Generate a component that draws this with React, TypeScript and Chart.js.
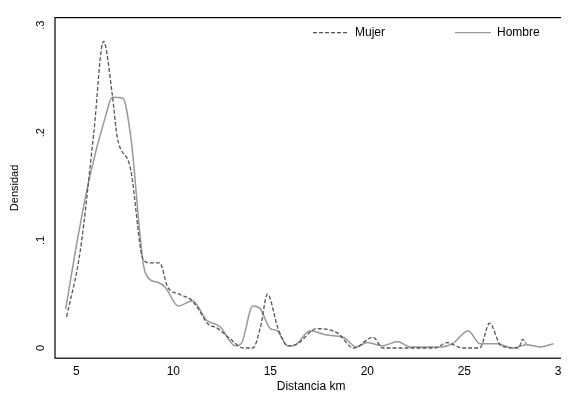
import React, { useEffect, useRef } from "react";
import { Chart, registerables } from "chart.js";
Chart.register(...registerables);

const mujerX = [4.5, 5.2, 5.9, 6.4, 6.85, 7.1, 7.8, 8.45, 8.8, 9.3, 9.7, 10.3, 10.9, 11.3, 11.75, 12.3, 12.9, 13.6, 14.1, 14.5, 14.85, 15.4, 15.9, 16.4, 17.4, 18.45, 19.3, 20.3, 20.8, 21.5, 23.5, 24.1, 24.9, 25.8, 26.3, 26.9, 27.8, 28.0, 28.2];
const mujerY = [0.029, 0.09, 0.2, 0.285, 0.236, 0.197, 0.166, 0.082, 0.079, 0.079, 0.057, 0.05, 0.045, 0.036, 0.023, 0.018, 0.009, 0.0, 0.0, 0.02, 0.05, 0.018, 0.002, 0.004, 0.018, 0.014, 0.0, 0.01, 0.0, 0.0, 0.0, 0.005, 0.0, 0.0, 0.023, 0.002, 0.0, 0.008, 0.004];
const hombreX = [4.45, 5.05, 5.7, 6.5, 6.85, 7.4, 7.8, 8.55, 9.2, 9.6, 10.25, 11.0, 11.7, 12.4, 13.2, 13.5, 14.1, 14.45, 15.0, 15.35, 15.9, 16.2, 17.05, 17.9, 18.75, 19.45, 20.0, 20.8, 21.55, 22.2, 23.8, 24.4, 25.2, 25.8, 26.7, 27.5, 28.2, 28.9, 29.6];
const hombreY = [0.036, 0.1, 0.16, 0.215, 0.233, 0.232, 0.197, 0.07, 0.061, 0.056, 0.039, 0.044, 0.026, 0.02, 0.002, 0.004, 0.039, 0.037, 0.018, 0.016, 0.002, 0.002, 0.016, 0.012, 0.01, 0.001, 0.005, 0.002, 0.006, 0.001, 0.001, 0.004, 0.016, 0.004, 0.004, 0.0, 0.003, 0.001, 0.004];
const xTicks = [5, 10, 15, 20, 25, 30];
const yTicks = [0, 0.1, 0.2, 0.3];
const yTickLabels = ["0", ".1", ".2", ".3"];

const FONT = "'Liberation Sans', Arial, sans-serif";

export default function App() {
  const ref = useRef<HTMLCanvasElement>(null);
  useEffect(() => {
    const frame = {
      id: "frame",
      afterDraw(c: any) {
        const { ctx, chartArea: a, scales } = c;
        ctx.save();
        ctx.strokeStyle = "#000";
        ctx.lineWidth = 1.2;
        ctx.strokeRect(a.left, a.top, a.right - a.left, a.bottom - a.top);
        ctx.fillStyle = "#000";
        ctx.font = `11px ${FONT}`;
        ctx.textAlign = "center";
        ctx.textBaseline = "bottom";
        yTicks.forEach((v, i) => {
          const y = scales.y.getPixelForValue(v);
          ctx.save();
          ctx.translate(a.left - 9, y);
          ctx.rotate(-Math.PI / 2);
          ctx.fillText(yTickLabels[i], 0, 0);
          ctx.restore();
        });
        const items = [
          { label: "Mujer", dash: [4, 2], color: "#555", x: a.left + 258 },
          { label: "Hombre", dash: [], color: "#999", x: a.left + 400 },
        ];
        ctx.font = `12px ${FONT}`;
        ctx.textAlign = "left";
        ctx.textBaseline = "middle";
        items.forEach((it) => {
          const y = a.top + 15;
          ctx.strokeStyle = it.color;
          ctx.lineWidth = 1.2;
          ctx.setLineDash(it.dash);
          ctx.beginPath();
          ctx.moveTo(it.x, y);
          ctx.lineTo(it.x + 36, y);
          ctx.stroke();
          ctx.setLineDash([]);
          ctx.fillStyle = "#000";
          ctx.fillText(it.label, it.x + 42, y);
        });
        ctx.restore();
      },
    };
    const chart = new Chart(ref.current!, {
      type: "line",
      data: {
        datasets: [
          {
            label: "Mujer",
            data: mujerX.map((x, i) => ({ x, y: mujerY[i] })),
            borderColor: "#555",
            borderDash: [4, 2],
            borderWidth: 1.3,
            pointRadius: 0,
            cubicInterpolationMode: "monotone",
          },
          {
            label: "Hombre",
            data: hombreX.map((x, i) => ({ x, y: hombreY[i] })),
            borderColor: "#999",
            borderWidth: 1.5,
            pointRadius: 0,
            cubicInterpolationMode: "monotone",
          },
        ],
      },
      options: {
        animation: false,
        responsive: false,
        layout: { padding: { top: 4, right: 1 } },
        plugins: { legend: { display: false }, tooltip: { enabled: false } },
        scales: {
          x: {
            type: "linear",
            min: 3.9,
            max: 30.3,
            afterBuildTicks: (s: any) => { s.ticks = xTicks.map((v) => ({ value: v })); },
            grid: { display: false, drawTicks: true, tickLength: 5, tickColor: "#000" },
            border: { display: false },
            ticks: { color: "#000", font: { family: FONT, size: 12 }, padding: 1, maxRotation: 0 },
            title: { display: true, text: "Distancia km", color: "#000", font: { family: FONT, size: 12 }, padding: { top: 0, bottom: 0 } },
          },
          y: {
            min: -0.0095,
            max: 0.307,
            afterBuildTicks: (s: any) => { s.ticks = yTicks.map((v) => ({ value: v })); },
            afterFit: (s: any) => { s.width = 47; },
            grid: { display: false, drawTicks: true, tickLength: 5, tickColor: "#000" },
            border: { display: false },
            ticks: { color: "rgba(0,0,0,0)", font: { family: FONT, size: 11 } },
            title: { display: true, text: "Densidad", color: "#000", font: { family: FONT, size: 11 }, padding: 0 },
          },
        },
      },
      plugins: [frame],
    } as any);
    return () => chart.destroy();
  }, []);
  return <canvas ref={ref} width={561} height={386} style={{ display: "block" }} />;
}
